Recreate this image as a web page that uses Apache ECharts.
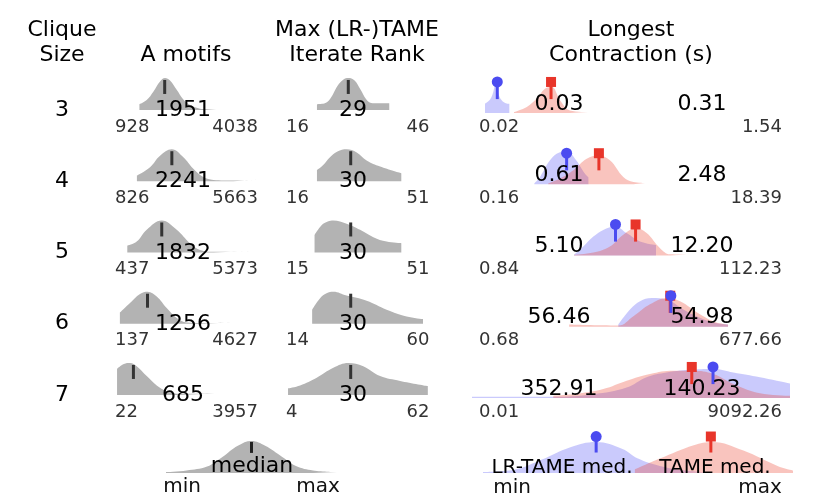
<!DOCTYPE html>
<html lang="en">
<head>
  <meta charset="utf-8">
  <style>
    html, body { margin: 0; padding: 0; background: #fff; }
    #container { width: 830px; height: 498px; }
  </style>
</head>
<body>
  <div id="container"></div>
  <script src="https://fastly.jsdelivr.net/npm/echarts@6.0.0/dist/echarts.min.js"></script>
  <script>
    // ---- data ----
    const cliqueSizes = [3, 4, 5, 6, 7];

    const motifMin = [928, 826, 437, 137, 22];
    const motifMax = [4038, 5663, 5373, 4627, 3957];
    const motifMedian = [1951, 2241, 1832, 1256, 685];

    const rankMin = [16, 16, 15, 14, 4];
    const rankMax = [46, 51, 51, 60, 62];
    const rankMedian = [29, 30, 30, 30, 30];

    const timeMin = [0.02, 0.16, 0.84, 0.68, 0.01];
    const timeMax = [1.54, 18.39, 112.23, 677.66, 9092.26];
    const lrtameMedian = [0.03, 0.61, 5.10, 56.46, 352.91];
    const tameMedian = [0.31, 2.48, 12.20, 54.98, 140.23];

    // density outlines: [value, height relative to the tallest curve]
    const motifDensity = [
      [[928, 0.18], [1222, 0.31], [1491, 0.57], [1762, 0.89], [1964, 1.0], [2167, 0.92], [2437, 0.63], [2707, 0.33], [2977, 0.16], [3248, 0.07], [3518, 0.03], [4038, 0.03]],
      [[826, 0.18], [1357, 0.44], [1762, 0.8], [2235, 1.0], [2707, 0.75], [3111, 0.39], [3516, 0.13], [3921, 0.04], [4730, 0.02], [5663, 0.05]],
      [[437, 0.21], [818, 0.34], [1223, 0.71], [1830, 1.0], [2438, 0.71], [2977, 0.29], [3382, 0.08], [3920, 0.02], [5373, 0.05]],
      [[137, 0.35], [547, 0.65], [952, 0.93], [1263, 1.0], [1628, 0.85], [2033, 0.49], [2438, 0.18], [2843, 0.04], [3382, 0.02], [4627, 0.04]],
      [[22, 0.82], [300, 0.97], [550, 1.0], [818, 0.9], [1223, 0.59], [1628, 0.3], [2033, 0.12], [2572, 0.04], [3957, 0.05]]
    ];
    const rankDensity = [
      [[16, 0.18], [19, 0.2], [21.5, 0.35], [24.5, 0.75], [27, 0.95], [29, 1.0], [31.5, 0.93], [34, 0.65], [36.5, 0.33], [38.5, 0.22], [41, 0.21], [46, 0.21]],
      [[16, 0.35], [18.5, 0.5], [21.4, 0.75], [24.5, 0.93], [28.3, 1.0], [32.5, 0.9], [36.6, 0.65], [42.2, 0.46], [51, 0.25]],
      [[15, 0.55], [18, 0.86], [20.5, 0.97], [22.8, 1.0], [28.3, 0.9], [33.9, 0.71], [39.4, 0.48], [44.9, 0.34], [51, 0.29]],
      [[14, 0.44], [17.3, 0.8], [20, 0.95], [22.8, 1.0], [28.3, 0.88], [36.6, 0.72], [44.9, 0.44], [53.2, 0.23], [60, 0.15]],
      [[4, 0.21], [9, 0.3], [15.9, 0.54], [22.8, 0.85], [29, 1.0], [35.2, 0.9], [42.2, 0.59], [50.5, 0.44], [62, 0.28]]
    ];
    const lrtameDensity = [
      [[0.0176, 0.29], [0.0219, 0.42], [0.0252, 0.66], [0.028, 0.95], [0.0314, 0.6], [0.0363, 0.4], [0.045, 0.3], [0.0506, 0.29]],
      [[0.15, 0.03], [0.192, 0.23], [0.296, 0.75], [0.457, 1.0], [0.612, 1.02], [0.878, 0.8], [1.355, 0.33], [1.57, 0.22]],
      [[0.84, 0.02], [1.26, 0.28], [1.95, 0.59], [3.0, 0.8], [4.99, 0.91], [8.28, 0.7], [14.8, 0.44], [29.6, 0.33]],
      [[5.76, 0.07], [9.57, 0.54], [14.8, 0.8], [24.6, 0.9], [47.1, 0.85], [97, 0.54], [200, 0.28], [357, 0.13], [677.66, 0.07]],
      [[0.0085, 0.04], [0.342, 0.04], [1.95, 0.12], [8.28, 0.33], [19.7, 0.65], [47.1, 0.8], [150, 0.89], [357, 0.91], [852, 0.8], [2716, 0.65], [11000, 0.44]]
    ];
    const tameDensity = [
      [[0.062, 0.03], [0.108, 0.19], [0.166, 0.45], [0.238, 0.76], [0.318, 0.81], [0.457, 0.4], [0.707, 0.08], [1.54, 0.03]],
      [[0.275, 0.03], [0.457, 0.18], [0.816, 0.44], [1.46, 0.8], [2.42, 0.9], [4.0, 0.75], [7.16, 0.23], [11.1, 0.07], [18.39, 0.04]],
      [[0.84, 0.02], [1.95, 0.09], [4.0, 0.28], [7.16, 0.65], [12.4, 0.85], [19.7, 0.7], [35.3, 0.23], [54.4, 0.04], [112.23, 0.03]],
      [[0.68, 0.07], [5.76, 0.04], [11.1, 0.33], [22.8, 0.7], [47.1, 0.9], [84.1, 0.8], [200, 0.39], [384, 0.15], [677.66, 0.07]],
      [[0.342, 0.07], [0.945, 0.13], [3.0, 0.28], [8.28, 0.54], [22.8, 0.75], [62.8, 0.85], [150, 0.85], [357, 0.75], [852, 0.44], [2716, 0.15], [10450, 0.07]]
    ];

    // key row (schematic, 0..1 scale)
    const keyGray = [[0, 0.03], [0.12, 0.08], [0.24, 0.2], [0.33, 0.5], [0.42, 0.85], [0.5, 1.0], [0.58, 0.85], [0.68, 0.5], [0.76, 0.22], [0.86, 0.08], [1, 0.03]];
    const keyGrayMedian = 0.5;
    const keyBlue = [[0, 0.03], [0.1, 0.1], [0.19, 0.42], [0.28, 0.8], [0.365, 0.97], [0.45, 0.75], [0.5, 0.45], [0.57, 0.22], [0.65, 0.08], [0.73, 0.02]];
    const keyRed = [[0.49, 0.11], [0.57, 0.45], [0.68, 0.87], [0.74, 0.97], [0.84, 0.7], [0.95, 0.22], [1, 0.08]];
    const keyBlueMedian = 0.365;
    const keyRedMedian = 0.735;

    // ---- styling ----
    const FONT = '"DejaVu Sans", sans-serif';
    const GRAY = '#b3b3b3';
    const TICK = '#333333';
    const BLUE_FILL = 'rgba(90, 90, 245, 0.32)';
    const RED_FILL = 'rgba(235, 60, 40, 0.30)';
    const BLUE = '#4b4bf0';
    const RED = '#e8352a';

    const rowBase = 110, rowStep = 71.25, cellH = 32;

    const grids = [], xAxes = [], yAxes = [], series = [], texts = [];

    function addCell(left, base, width, xAxis) {
      const i = grids.length;
      grids.push({ left: left, top: base - cellH, width: width, height: cellH });
      xAxes.push(Object.assign({ gridIndex: i, show: false }, xAxis));
      yAxes.push({ gridIndex: i, type: 'value', min: 0, max: 1, show: false });
      return i;
    }
    function area(i, data, color) {
      series.push({
        type: 'line', xAxisIndex: i, yAxisIndex: i, data: data, z: 2,
        smooth: 0.4, symbol: 'none', showSymbol: false, clip: false, silent: true,
        lineStyle: { width: 0, opacity: 0 },
        areaStyle: { color: color, opacity: 1 }
      });
    }
    function mark(i, x, y, symbol, size, color) {
      series.push({
        type: 'scatter', xAxisIndex: i, yAxisIndex: i, data: [[x, y]], z: 5,
        symbol: symbol, symbolSize: size, clip: false, silent: true,
        itemStyle: { color: color, opacity: 1 }
      });
    }
    function text(str, x, y, size, color, align) {
      texts.push({
        type: 'text', x: x, y: y, z: 20, silent: true,
        style: { text: str, font: size + 'px ' + FONT, fill: color || '#000', align: align || 'center', verticalAlign: 'middle' }
      });
    }

    // headers
    text('Clique', 62, 30.5, 22);
    text('Size', 62, 55, 22);
    text('A motifs', 186, 55, 22);
    text('Max (LR-)TAME', 357, 30.5, 22);
    text('Iterate Rank', 357, 55, 22);
    text('Longest', 631, 30.5, 22);
    text('Contraction (s)', 631, 55, 22);

    cliqueSizes.forEach(function (k, r) {
      const b = rowBase + r * rowStep;
      const b3 = b + 3;
      text(String(k), 62, b, 22);

      // A motifs
      const c1 = addCell(116.5, b, 148.2, { type: 'value', min: 0, max: 6000 });
      area(c1, motifDensity[r], GRAY);
      mark(c1, motifMedian[r], 0.72, 'rect', [3, 14], TICK);
      text(String(motifMedian[r]), 183, b + 0.5, 22);
      text(String(motifMin[r]), 115, b + 17, 18, '#333', 'left');
      text(String(motifMax[r]), 258, b + 17, 18, '#333', 'right');

      // iterate rank
      const c2 = addCell(278.4, b, 168.7, { type: 'value', min: 0, max: 70 });
      area(c2, rankDensity[r], GRAY);
      mark(c2, rankMedian[r], 0.72, 'rect', [3, 14], TICK);
      text(String(rankMedian[r]), 353, b + 0.5, 22);
      text(String(rankMin[r]), 286, b + 17, 18, '#333', 'left');
      text(String(rankMax[r]), 429.5, b + 17, 18, '#333', 'right');

      // longest contraction (log scale)
      const c3 = addCell(472, b3, 318, { type: 'log', logBase: 10, min: 0.01, max: 10000 });
      area(c3, lrtameDensity[r], BLUE_FILL);
      area(c3, tameDensity[r], RED_FILL);
      mark(c3, tameMedian[r], 0.70, 'rect', [3, 17], RED);
      mark(c3, tameMedian[r], 0.97, 'rect', [10, 10], RED);
      mark(c3, lrtameMedian[r], 0.70, 'rect', [3, 17], BLUE);
      mark(c3, lrtameMedian[r], 0.97, 'circle', 11, BLUE);
      text(lrtameMedian[r].toFixed(2), 559, b - 6, 22);
      text(tameMedian[r].toFixed(2), 702, b - 6, 22);
      text(timeMin[r].toFixed(2), 479, b + 17, 18, '#333', 'left');
      text(timeMax[r].toFixed(2), 782, b + 17, 18, '#333', 'right');
    });

    // key row
    const kb = 473;
    const k1 = addCell(166, kb, 171, { type: 'value', min: 0, max: 1 });
    area(k1, keyGray, GRAY);
    mark(k1, keyGrayMedian, 0.8, 'rect', [3, 11], '#222');
    text('median', 252, 466, 22);
    text('min', 182, 487, 20, '#111');
    text('max', 318, 487, 20, '#111');

    const k2 = addCell(483, kb, 310, { type: 'value', min: 0, max: 1 });
    area(k2, keyBlue, BLUE_FILL);
    area(k2, keyRed, RED_FILL);
    mark(k2, keyRedMedian, 0.89, 'rect', [3, 16], RED);
    mark(k2, keyRedMedian, 1.14, 'rect', [10, 10], RED);
    mark(k2, keyBlueMedian, 0.89, 'rect', [3, 16], BLUE);
    mark(k2, keyBlueMedian, 1.14, 'circle', 11, BLUE);
    text('LR-TAME med.', 562, 467.5, 20);
    text('TAME med.', 715, 467.5, 20);
    text('min', 512, 487.5, 20, '#111');
    text('max', 760, 487.5, 20, '#111');

    const chart = echarts.init(document.getElementById('container'), null, { renderer: 'canvas' });
    chart.setOption({
      animation: false,
      backgroundColor: '#ffffff',
      grid: grids,
      xAxis: xAxes,
      yAxis: yAxes,
      series: series,
      graphic: { elements: texts }
    });
  </script>
</body>
</html>
